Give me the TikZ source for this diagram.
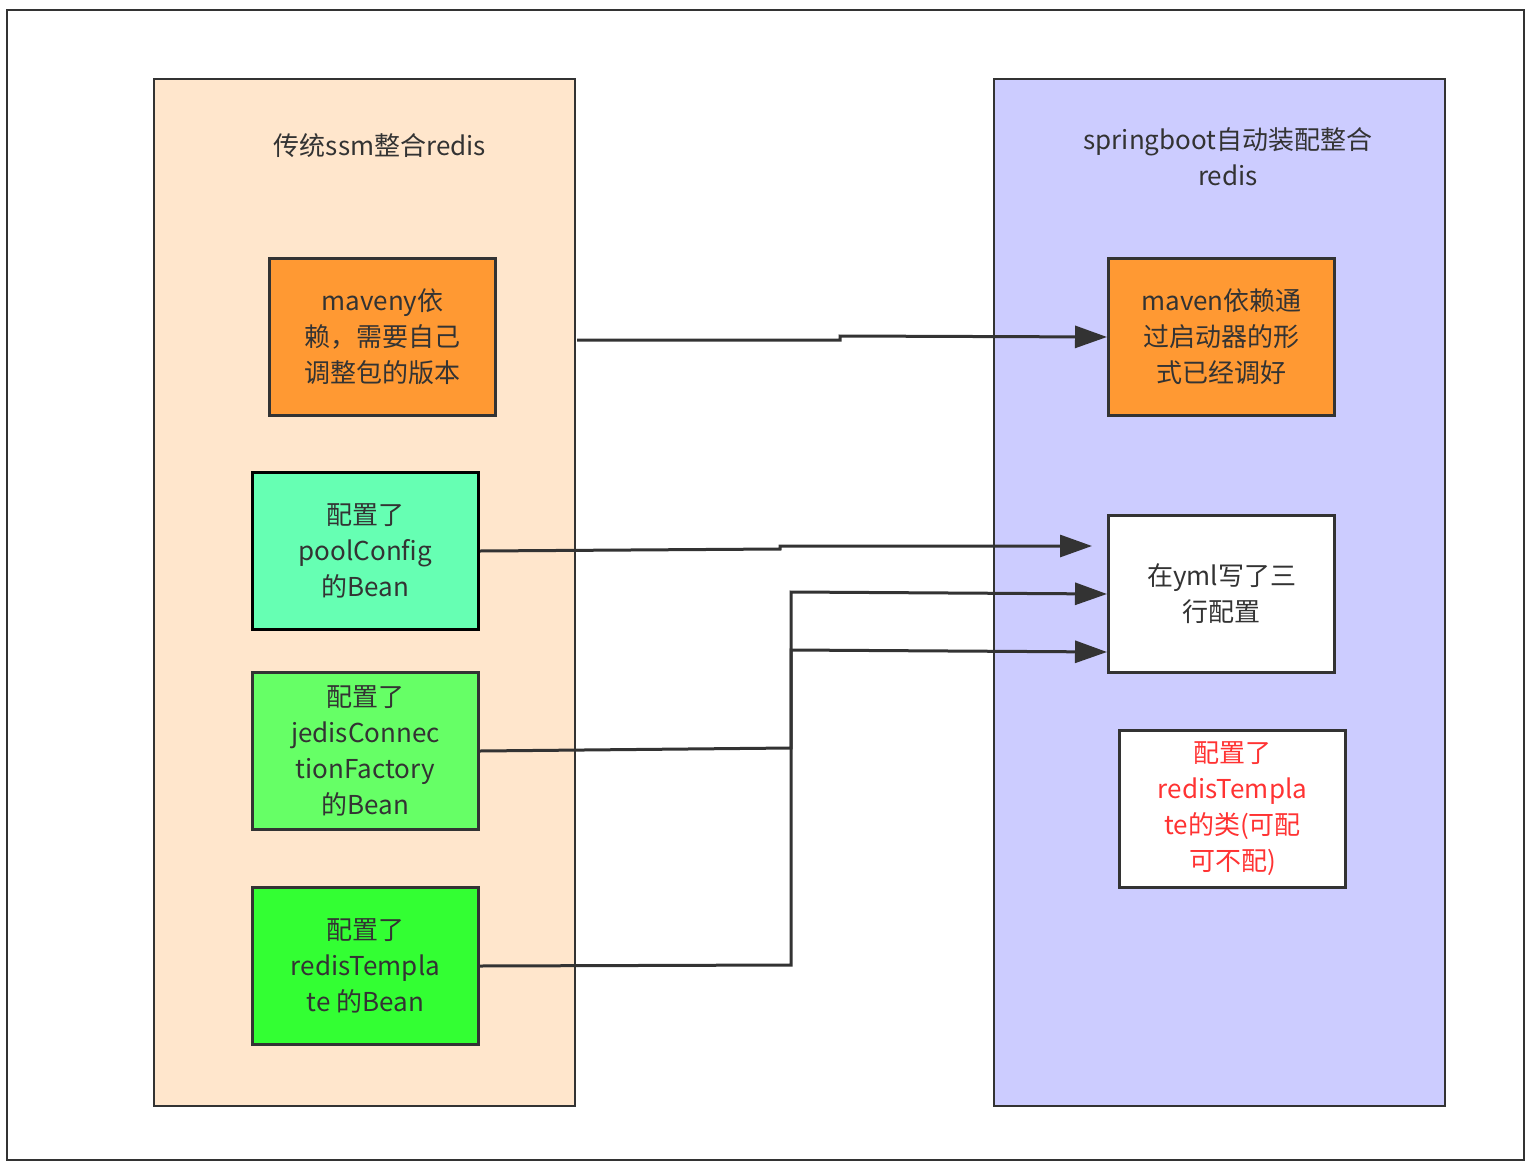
\documentclass[tikz,border=0pt]{standalone}
\usepackage{fontspec}
\setmainfont{Noto Sans CJK SC}
\usetikzlibrary{arrows.meta}
\definecolor{peach}{HTML}{FFE6CC}
\definecolor{lav}{HTML}{CCCCFF}
\definecolor{org}{HTML}{FF9933}
\definecolor{g1}{HTML}{66FFB3}
\definecolor{g2}{HTML}{66FF66}
\definecolor{g3}{HTML}{33FF33}
\definecolor{ln}{HTML}{333333}
\definecolor{txt}{HTML}{333333}
\begin{document}
\begin{tikzpicture}[x=1pt,y=-1pt,
  panel/.style={draw=ln,line width=2.5pt},
  box/.style={draw=ln,line width=3pt,minimum width=226pt,minimum height=157pt,anchor=north west,align=center,inner sep=0pt,text=txt,font=\fontsize{26}{36}\selectfont},
  conn/.style={draw=ln,line width=3pt},
  arr/.style={conn,-{Triangle[length=32pt,width=22pt]}},
  lbl/.style={text=txt,font=\fontsize{26}{36}\selectfont,align=center}]
\useasboundingbox (0,0) rectangle (1527,1167);
\fill[white] (0,0) rectangle (1527,1167);
\draw[ln,line width=2pt] (7,10) rectangle (1524,1160);
\draw[panel,fill=peach] (154,79) rectangle (575,1106);
\draw[panel,fill=lav] (994,79) rectangle (1445,1106);
\node[lbl] (t1) at (380,146) {传统ssm整合redis};
\node[lbl] (t2) at (1228,157) {springboot自动装配整合\\redis};
\node[box,fill=org] (L1) at (268,257) {maveny依\\赖，需要自己\\调整包的版本};
\node[box,fill=g1,draw=black] (L2) at (251,471) {配置了\\poolConfig\\的Bean};
\node[box,fill=g2] (L3) at (251,671) {配置了\\jedisConnec\\tionFactory\\的Bean};
\node[box,fill=g3] (L4) at (251,886) {配置了\\redisTempla\\te 的Bean};
\node[box,fill=org] (R1) at (1107,257) {maven依赖通\\过启动器的形\\式已经调好};
\node[box,fill=white] (R2) at (1107,514) {在yml写了三\\行配置};
\node[box,fill=white,text={rgb,255:red,255;green,51;blue,51}] (R3) at (1118,729) {配置了\\redisTempla\\te的类(可配\\可不配)};
\coordinate (s1) at (577,340);
\coordinate (e2) at (1092,546);
\draw[arr] (s1) -- (840,340) -- (840,336) -- (R1.west);
\draw[arr] (L2.east) -- (780,549) -- (780,546) -- (e2);
\draw[arr] (L3.east) -- (791,748) -- (791,592) -- (R2.west);
\draw[arr] (L4.east) -- (791,965) -- (791,650) -- ([yshift=-58pt]R2.west);
\end{tikzpicture}
\end{document}
